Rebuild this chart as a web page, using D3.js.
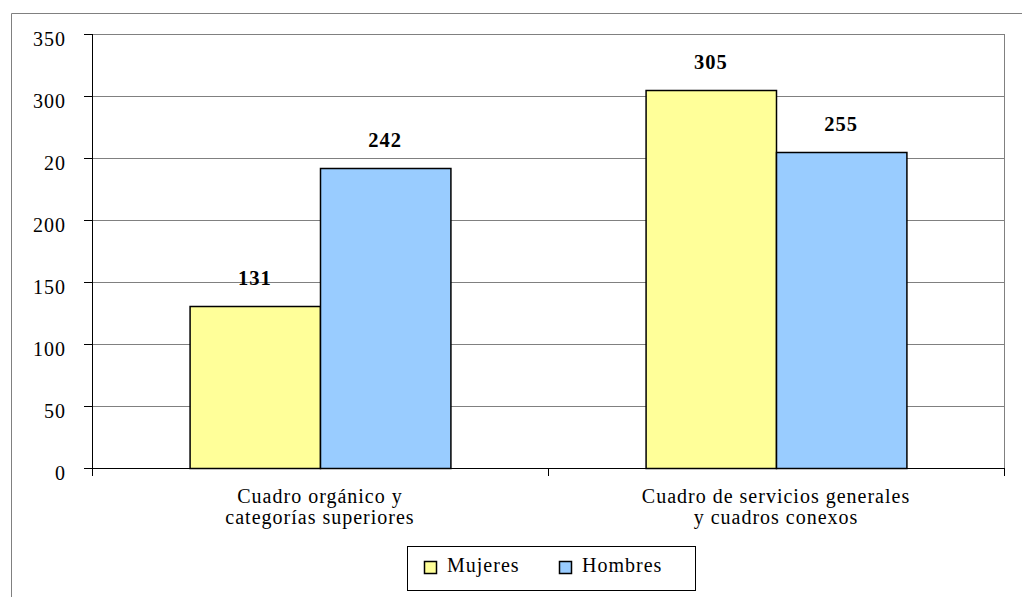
<!DOCTYPE html>
<html>
<head>
<meta charset="utf-8">
<script src="https://cdn.jsdelivr.net/npm/d3@7"></script>
<style>
  html, body { margin: 0; padding: 0; background: #fff; }
  svg { display: block; }
</style>
</head>
<body>
<svg id="chart" width="1022" height="597"></svg>
<script>
// ---- data ----
const categories = [
  ["Cuadro orgánico y", "categorías superiores"],
  ["Cuadro de servicios generales", "y cuadros conexos"]
];
const seriesNames = ["Mujeres", "Hombres"];
const mujeres = [131, 305];
const hombres = [242, 255];
const tickValues = [0, 50, 100, 150, 200, 250, 300, 350];
const tickLabels = ["0", "50", "100", "150", "200", "20", "300", "350"];
const colors = ["#FFFF99", "#99CCFF"];

// ---- layout ----
const FONT = "'Liberation Serif', 'Times New Roman', Tinos, 'DejaVu Serif', serif";
const svg = d3.select("#chart").style("font-family", FONT);
const plot = { left: 92, top: 34, right: 1004, bottom: 468 };
const LS = "1px";
const FS = "20px";

// outer frame (top + left edges visible)
svg.append("path")
  .attr("d", "M11.5,597 V13.5 H1022")
  .attr("fill", "none").attr("stroke", "#808080").attr("stroke-width", 1);

const y = d3.scaleLinear().domain([0, 350]).range([plot.bottom, plot.top]);
const x0 = d3.scaleBand().domain(d3.range(categories.length))
  .range([plot.left, plot.right]).paddingInner(0.428).paddingOuter(0.214);
const x1 = d3.scaleBand().domain(seriesNames).range([0, x0.bandwidth()]);

// gridlines
const grid = svg.append("g").attr("transform", `translate(${plot.left},0)`)
  .call(d3.axisLeft(y).tickValues(tickValues.slice(1)).tickSize(-(plot.right - plot.left)).tickFormat(""));
grid.select(".domain").remove();
grid.selectAll("line").attr("stroke", "#808080").attr("shape-rendering", "crispEdges");

// plot right border
svg.append("line")
  .attr("x1", plot.right + 0.5).attr("x2", plot.right + 0.5)
  .attr("y1", plot.top).attr("y2", plot.bottom)
  .attr("stroke", "#808080");

// bars
const data = categories.map((c, i) => ({ i, values: [mujeres[i], hombres[i]] }));
const groups = svg.append("g").selectAll("g").data(data).join("g")
  .attr("transform", d => `translate(${x0(d.i)},0)`);
groups.selectAll("rect")
  .data(d => d.values.map((v, k) => ({ v, k })))
  .join("rect")
  .attr("x", d => x1(seriesNames[d.k]) + 0.5)
  .attr("y", d => Math.round(y(d.v)) + 0.5)
  .attr("width", x1.bandwidth())
  .attr("height", d => plot.bottom - Math.round(y(d.v)))
  .attr("fill", d => colors[d.k])
  .attr("stroke", "#000").attr("stroke-width", 1.5);

// value labels
groups.selectAll("text.val")
  .data(d => d.values.map((v, k) => ({ v, k })))
  .join("text").attr("class", "val")
  .attr("x", d => x1(seriesNames[d.k]) + x1.bandwidth() / 2)
  .attr("y", d => y(d.v) - 21)
  .attr("text-anchor", "middle")
  .style("font-family", FONT)
  .style("font-size", "20.5px").style("font-weight", "bold")
  .style("letter-spacing", LS)
  .text(d => d.v);

// y axis
const yAxis = svg.append("g").attr("transform", `translate(${plot.left},0)`)
  .call(d3.axisLeft(y).tickValues(tickValues).tickSize(8).tickPadding(0)
    .tickFormat((d, i) => tickLabels[i]));
yAxis.attr("font-family", null).attr("font-size", null);
yAxis.select(".domain").attr("stroke", "#000").attr("d", `M0.5,${plot.top}V${plot.bottom}`);
yAxis.selectAll(".tick line").attr("stroke", "#000").attr("shape-rendering", "crispEdges");
yAxis.selectAll(".tick text")
  .attr("x", -26).attr("dy", "0.55em").attr("fill", "#000")
  .style("font-family", FONT)
  .style("font-size", FS).style("letter-spacing", LS);

// x axis
const bounds = [plot.left, (x0(0) + x0.bandwidth() + x0(1)) / 2, plot.right];
const xAxisG = svg.append("g");
xAxisG.append("line")
  .attr("x1", plot.left).attr("x2", plot.right)
  .attr("y1", plot.bottom + 0.5).attr("y2", plot.bottom + 0.5)
  .attr("stroke", "#000");
xAxisG.selectAll("line.tk").data(bounds).join("line").attr("class", "tk")
  .attr("x1", d => Math.round(d) + 0.5).attr("x2", d => Math.round(d) + 0.5)
  .attr("y1", plot.bottom).attr("y2", plot.bottom + 8)
  .attr("stroke", "#000");

// category labels
const catG = svg.append("g").selectAll("text").data(categories).join("text")
  .attr("x", (d, i) => x0(i) + x0.bandwidth() / 2)
  .attr("y", plot.bottom + 35)
  .attr("text-anchor", "middle")
  .style("font-family", FONT)
  .style("font-size", FS).style("letter-spacing", LS);
catG.selectAll("tspan").data(d => d).join("tspan")
  .attr("x", function () { return this.parentNode.getAttribute("x"); })
  .attr("dy", (d, i) => i === 0 ? 0 : 21)
  .text(d => d);

// legend
const lg = svg.append("g");
lg.append("rect").attr("x", 407.5).attr("y", 546.5).attr("width", 288).attr("height", 44)
  .attr("fill", "#fff").attr("stroke", "#000");
const legendX = [424, 559];
seriesNames.forEach((name, k) => {
  lg.append("rect").attr("x", legendX[k] + 0.5).attr("y", 561.5).attr("width", 12).attr("height", 12)
    .attr("fill", colors[k]).attr("stroke", "#000").attr("stroke-width", 1.5);
  lg.append("text").attr("x", legendX[k] + 23).attr("y", 572)
    .style("font-family", FONT)
    .style("font-size", FS).style("letter-spacing", LS)
    .text(name);
});
</script>
</body>
</html>
